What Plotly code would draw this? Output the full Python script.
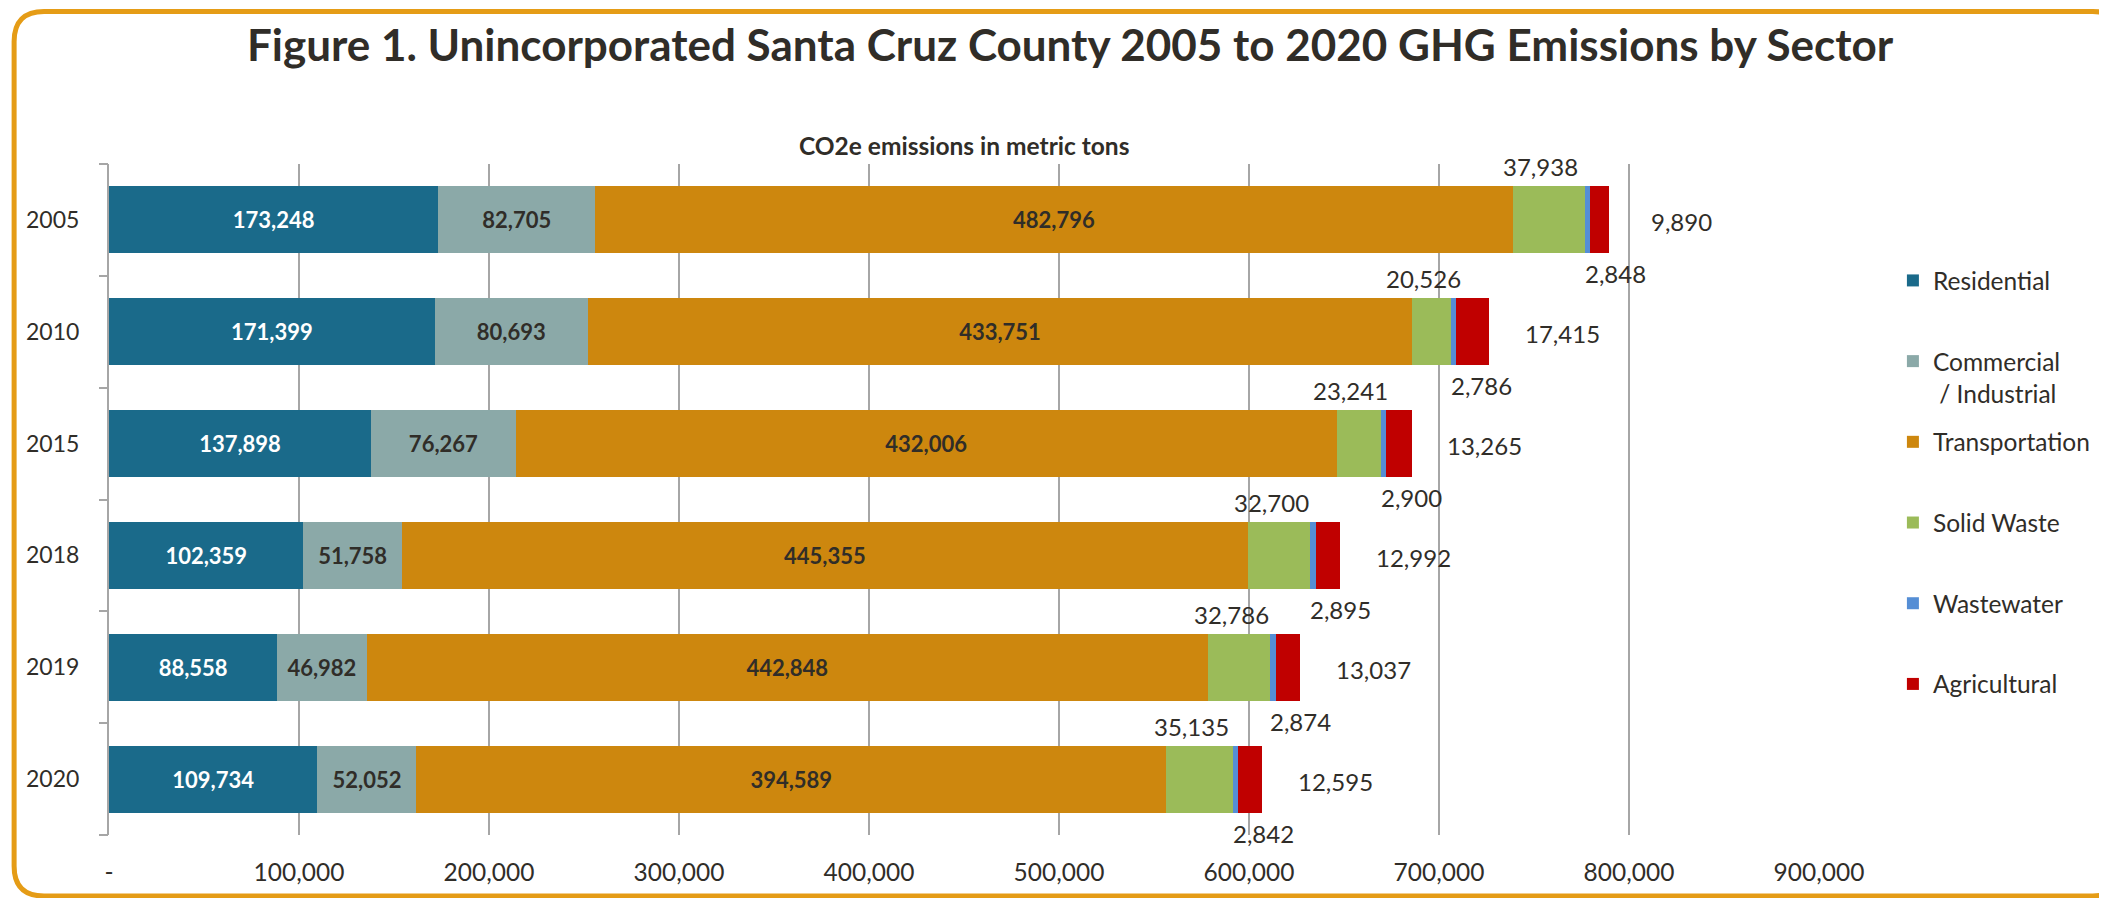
import plotly.graph_objects as go
import numpy as np

# ---------------- data ----------------
years = ["2005", "2010", "2015", "2018", "2019", "2020"]
residential = [173248, 171399, 137898, 102359, 88558, 109734]
commercial = [82705, 80693, 76267, 51758, 46982, 52052]
transportation = [482796, 433751, 432006, 445355, 442848, 394589]
solid_waste = [37938, 20526, 23241, 32700, 32786, 35135]
wastewater = [2848, 2786, 2900, 2895, 2874, 2842]
agricultural = [9890, 17415, 13265, 12992, 13037, 12595]

sector_names = ["Residential", "Commercial", "Transportation",
                "Solid Waste", "Wastewater", "Agricultural"]
sector_second_lines = ["\u00a0", " / Industrial", "\u00a0", "\u00a0", "\u00a0", "\u00a0"]
x_tick_values = [0, 100000, 200000, 300000, 400000, 500000, 600000, 700000, 800000, 900000]
x_tick_labels = ["-", "100,000", "200,000", "300,000", "400,000", "500,000",
                 "600,000", "700,000", "800,000", "900,000"]

title_text = "Figure 1. Unincorporated Santa Cruz County 2005 to 2020 GHG Emissions by Sector"
subtitle_text = "CO2e emissions in metric tons"

# ---------------- styles ----------------
colors = ["#1A6A8A", "#8BA9A8", "#CD870E", "#9BBB59", "#558ED5", "#C00000"]
inside_text_colors = ["#FFFFFF", "#302D28", "#302D28"]
FONT = "Lato"
TEXT = "#302D28"
GRID = "#A6A6A6"
OFF = 8                      # page offset of the figure (default body margin)
PAGE_W, PAGE_H = 2107, 898
W, H = PAGE_W - OFF, PAGE_H - OFF
PLOT_L, PLOT_T, PW, PH = 109, 164, 1712, 671   # plot area in page pixels
ML, MT = PLOT_L - OFF, PLOT_T - OFF
MR, MB = W - ML - PW, H - MT - PH

series = [residential, commercial, transportation, solid_waste, wastewater, agricultural]
n = len(years)
ypos = list(range(n))

fig = go.Figure()
for i, vals in enumerate(series):
    if i < 3:
        kw = dict(texttemplate="%{x:,}", textposition="inside", insidetextanchor="middle",
                  textangle=0,
                  textfont=dict(family=FONT, size=22, color=inside_text_colors[i], weight="bold"))
    else:
        kw = dict(textposition="none")
    fig.add_trace(go.Bar(
        y=ypos, x=vals, orientation="h",
        name=sector_names[i] + "<br>" + sector_second_lines[i],
        legendgroup=sector_names[i],
        marker=dict(color=colors[i], line=dict(width=0)),
        hoverinfo="skip",
        **kw
    ))

# outside data labels for small segments
arr = np.array(series, dtype=float)
cum = np.cumsum(arr, axis=0)
annots = []
lab_font = dict(family=FONT, size=24, color=TEXT)
for j in range(n):
    sw_start = cum[2, j]
    annots.append(dict(x=sw_start + solid_waste[j] / 2, y=j, xref="x", yref="y",
                       text=f"{solid_waste[j]:,}", showarrow=False, font=lab_font,
                       xanchor="center", yanchor="middle", xshift=-8, yshift=53))
    ww_start = cum[3, j]
    annots.append(dict(x=ww_start + wastewater[j] / 2, y=j, xref="x", yref="y",
                       text=f"{wastewater[j]:,}", showarrow=False, font=lab_font,
                       xanchor="center", yanchor="middle", xshift=28, yshift=-54))
    annots.append(dict(x=cum[5, j], y=j, xref="x", yref="y",
                       text=f"{agricultural[j]:,}", showarrow=False, font=lab_font,
                       xanchor="center", yanchor="middle", xshift=73, yshift=-2))

annots.append(dict(x=0.5, y=(PLOT_T + PH - 145) / PH, xref="paper", yref="paper",
                   text=f"<b>{subtitle_text}</b>", showarrow=False,
                   font=dict(family=FONT, size=24.5, color=TEXT),
                   xanchor="center", yanchor="middle"))


def px(xp, yp):
    """page pixels -> paper coordinates"""
    return (xp - PLOT_L) / PW, (PLOT_T + PH - yp) / PH


x0, y0, x1, y1, r = 14, 11.5, 2125, 896, 30
pts = [("M", [(x0 + r, y0)]), ("L", [(x1 - r, y0)]), ("Q", [(x1, y0), (x1, y0 + r)]),
       ("L", [(x1, y1 - r)]), ("Q", [(x1, y1), (x1 - r, y1)]), ("L", [(x0 + r, y1)]),
       ("Q", [(x0, y1), (x0, y1 - r)]), ("L", [(x0, y0 + r)]), ("Q", [(x0, y0), (x0 + r, y0)])]
path = ""
for cmd, ps in pts:
    path += cmd + " ".join("%.5f,%.5f" % px(a, b) for a, b in ps) + " "
path += "Z"

fig.update_layout(
    width=W, height=H,
    margin=dict(l=ML, r=MR, t=MT, b=MB),
    paper_bgcolor="white", plot_bgcolor="white",
    barmode="stack", bargap=0.4,
    uniformtext=dict(minsize=22, mode="show"),
    font=dict(family=FONT, size=23, color=TEXT),
    title=dict(text=f"<b>{title_text}</b>", x=(1070 - OFF) / W, xanchor="center",
               y=1 - (46 - OFF) / H, yanchor="middle",
               font=dict(family=FONT, size=44, color=TEXT)),
    xaxis=dict(range=[0, 900000], tickvals=x_tick_values, ticktext=x_tick_labels,
               showgrid=True, gridcolor=GRID, gridwidth=2, zeroline=False,
               showline=False, ticks="", ticklabelstandoff=20,
               tickfont=dict(family=FONT, size=24.5, color=TEXT), fixedrange=True),
    yaxis=dict(range=[n - 0.5, -0.5], tickvals=ypos, ticktext=years,
               showgrid=False, zeroline=False,
               showline=True, linecolor=GRID, linewidth=2,
               ticks="", ticklabelstandoff=23,
               tickfont=dict(family=FONT, size=23, color=TEXT), fixedrange=True),
    yaxis2=dict(overlaying="y", range=[n - 0.5, -0.5],
                tickvals=[k - 0.5 for k in range(n + 1)], showticklabels=False,
                ticks="outside", ticklen=9, tickwidth=2, tickcolor=GRID,
                showgrid=False, zeroline=False, showline=False, side="left",
                fixedrange=True),
    legend=dict(x=(1895 - PLOT_L) / PW, xanchor="left", y=(PLOT_T + PH - 258) / PH,
                yanchor="top", traceorder="grouped", tracegroupgap=14, valign="top",
                font=dict(family=FONT, size=24.5, color=TEXT), bgcolor="rgba(0,0,0,0)"),
    annotations=annots,
    shapes=[dict(type="path", path=path, xref="paper", yref="paper",
                 line=dict(color="#E59C16", width=5), fillcolor="rgba(0,0,0,0)", layer="above")],
)
# invisible helper trace so the boundary-tick axis is drawn
fig.add_trace(go.Scatter(x=[None], y=[None], yaxis="y2", showlegend=False, hoverinfo="skip"))

fig.write_html("out.html")
